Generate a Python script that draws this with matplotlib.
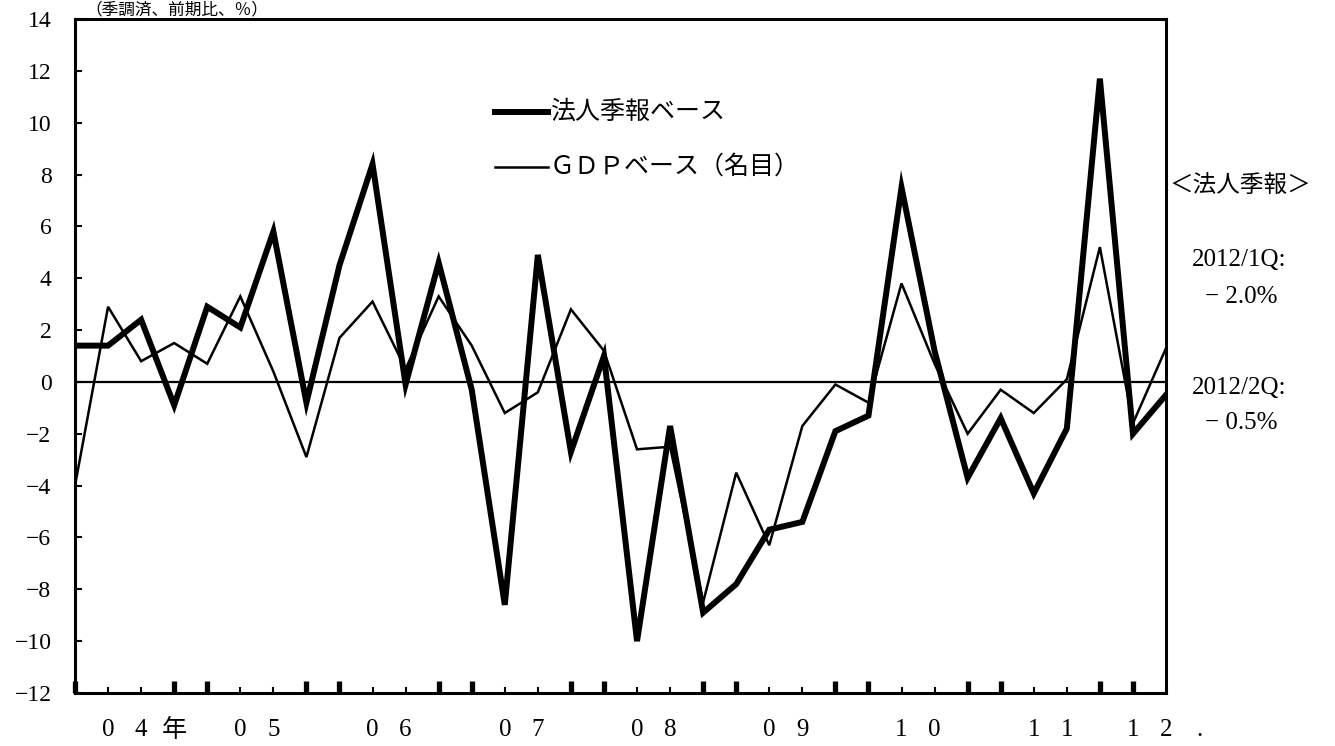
import numpy as np
import matplotlib
matplotlib.use("Agg")
import matplotlib.pyplot as plt

plt.rcParams['font.family'] = ['Liberation Serif', 'Noto Sans CJK JP', 'DejaVu Sans']

# ---- data (quarterly, 2004Q1 .. 2012Q2) ----
hojin = [1.4, 1.4, 2.4, -0.9, 2.9, 2.1, 5.8, -0.8, 4.5, 8.4, -0.1, 4.6,
         -0.3, -8.6, 4.9, -2.7, 1.0, -10.0, -1.7, -8.9, -7.8, -5.7, -5.4, -1.9,
         -1.3, 7.5, 1.2, -3.7, -1.4, -4.3, -1.8, 11.7, -2.0, -0.5]
gdp = [-4.0, 2.9, 0.8, 1.5, 0.7, 3.3, 0.4, -2.9, 1.7, 3.1, 0.5, 3.3,
       1.4, -1.2, -0.4, 2.8, 1.2, -2.6, -2.5, -8.5, -3.5, -6.3, -1.7, -0.1,
       -0.8, 3.8, 0.7, -2.0, -0.3, -1.2, 0.1, 5.2, -1.6, 1.3]
year_labels = ["04年", "05", "06", "07", "08", "09", "10", "11", "12."]
year_label_start = [1, 5, 9, 13, 17, 21, 25, 29, 32]   # quarter index of first char
legend_labels = ["法人季報ベース", "ＧＤＰベース（名目）"]
note_lines = ["＜法人季報＞", "2012/1Q:", "− 2.0%", "2012/2Q:", "− 0.5%"]

x = np.arange(len(hojin))

fig = plt.figure(figsize=(13.35, 7.46), dpi=100)
ax = fig.add_axes([75 / 1335, 1 - 693 / 746, 1091 / 1335, 674 / 746])

ax.plot(x, hojin, color='black', lw=4.3, solid_joinstyle='miter')
ax.plot(x, gdp, color='black', lw=1.8, solid_joinstyle='miter')
ax.axhline(0, color='black', lw=1.6)

ax.set_xlim(0, len(x) - 1)
ax.set_ylim(-12, 14)
ax.set_yticks(np.arange(-12, 15, 2))
ax.tick_params(axis='y', direction='in', length=5, width=1.5, pad=17, labelsize=17)

# x ticks: big at Q4/Q1, small at Q2/Q3
big = [i for i in x if i % 4 in (0, 3)]
small = [i for i in x if i % 4 in (1, 2)]
ax.set_xticks(big)
ax.set_xticks(small, minor=True)
ax.set_xticklabels([])
ax.tick_params(axis='x', which='major', direction='in', length=9, width=3.8)
ax.tick_params(axis='x', which='minor', direction='in', length=4.5, width=1.5)

for s in ax.spines.values():
    s.set_linewidth(2.2)

# year labels, one char per quarter slot
for lab, st in zip(year_labels, year_label_start):
    for k, ch in enumerate(lab):
        ax.text(st + k, -0.055, ch, transform=ax.get_xaxis_transform(),
                ha='center', va='center', fontsize=18)

# legend drawn by hand
lx0, lx1 = 495 / 1335, 548 / 1335
for lab, py, lw in zip(legend_labels, [112, 167], [4.3, 1.8]):
    fy = 1 - py / 746
    fig.add_artist(plt.Line2D([lx0, lx1], [fy, fy], color='black', lw=lw))
    fig.text(lx1 + 2 / 1335, fy, lab, ha='left', va='center', fontsize=18,
             family=['Noto Sans CJK JP', 'DejaVu Sans'])

# right-hand note
fig.text(1170 / 1335, 1 - 185 / 746, note_lines[0], ha='left', va='center', fontsize=17,
         family=['Noto Sans CJK JP', 'DejaVu Sans'])
for txt, px, py in zip(note_lines[1:], [1192, 1205, 1192, 1205], [260, 297, 388, 423]):
    fig.text(px / 1335, 1 - py / 746, txt, ha='left', va='center', fontsize=18)

# unit label (sits at the very top edge in the original)
fig.text(85 / 1335, 1 - 1 / 746, "（季調済、前期比、％）", ha='left', va='top',
         fontsize=12, family=['Noto Sans CJK JP', 'DejaVu Sans'])

fig.savefig("out.png", dpi=100)
